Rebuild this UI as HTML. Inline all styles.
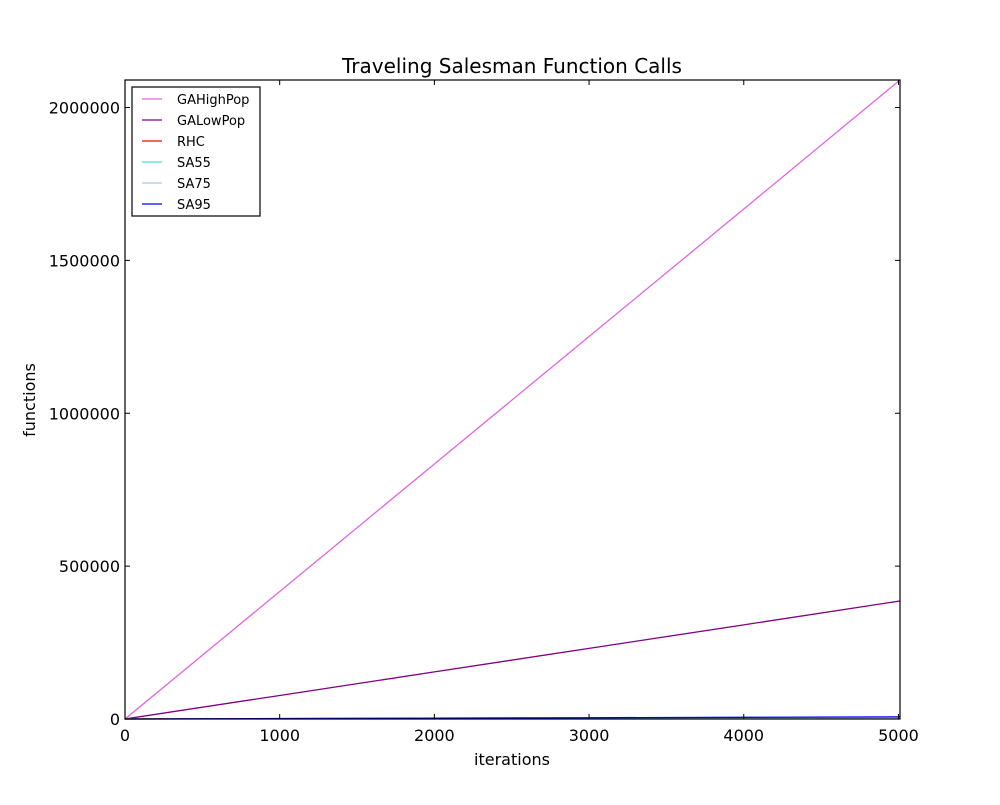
<!DOCTYPE html>
<html><head><meta charset="utf-8"><style>
body{margin:0;background:#fff;font-family:"Liberation Sans","DejaVu Sans",sans-serif;}
</style></head><body>
<svg width="1000" height="800" xmlns="http://www.w3.org/2000/svg" font-family="DejaVu Sans, Liberation Sans, sans-serif">
<rect width="1000" height="800" fill="#fff"/>
<text x="512" y="73" text-anchor="middle" font-size="20">Traveling Salesman Function Calls</text>
<g id="plot"></g>
<text x="512" y="765" text-anchor="middle" font-size="16">iterations</text>
<text transform="translate(35,400) rotate(-90)" text-anchor="middle" font-size="16">functions</text>
</svg>
<script>
const iterations = [0, 1000, 2000, 3000, 4000, 5010];
const gaHighPop = [0, 417000, 834000, 1251000, 1668000, 2090000];
const gaLowPop = [0, 77000, 154000, 231000, 308000, 386000];
const rhc = [0, 1000, 2000, 3000, 4000, 5010];
const sa55 = [0, 1000, 2000, 3000, 4000, 5010];
const sa75 = [0, 1000, 2000, 3000, 4000, 5010];
const sa95 = [0, 1400, 2800, 4200, 5600, 7000];
const xTicks = [0, 1000, 2000, 3000, 4000, 5000];
const yTicks = [0, 500000, 1000000, 1500000, 2000000];
const seriesNames = ["GAHighPop","GALowPop","RHC","SA55","SA75","SA95"];
const seriesColors = ["#e066e0","#800080","#ff0000","#40e0d0","#b0c4de","#0000ff"];
const seriesData = [gaHighPop, gaLowPop, rhc, sa55, sa75, sa95];
const L=125,R=900,T=80,B=719,XMAX=5010,YMAX=2090000;
const sx=v=>L+v/XMAX*(R-L), sy=v=>B-v/YMAX*(B-T);
const NS="http://www.w3.org/2000/svg";
const g=document.getElementById('plot');
function mk(t,a){const e=document.createElementNS(NS,t);for(const k in a)e.setAttribute(k,a[k]);g.appendChild(e);return e;}
seriesData.forEach((d,i)=>{
  const p=mk('polyline',{points:d.map((v,j)=>sx(iterations[j])+','+sy(v)).join(' '),fill:'none',stroke:seriesColors[i],'stroke-width':1.3});
  
  
});
const frame=mk('rect',{x:L,y:T,width:R-L,height:B-T,fill:'none',stroke:'#000','stroke-width':1.2});


xTicks.forEach(v=>{
  const x=sx(v);
  mk('line',{x1:x,y1:B,x2:x,y2:B-5,stroke:'#000'});
  mk('line',{x1:x,y1:T,x2:x,y2:T+5,stroke:'#000'});
  const t=mk('text',{x:x,y:B+22,'text-anchor':'middle','font-size':16});
  t.textContent=v;
  
  
});
yTicks.forEach(v=>{
  const y=sy(v);
  mk('line',{x1:L,y1:y,x2:L+5,y2:y,stroke:'#000'});
  mk('line',{x1:R,y1:y,x2:R-5,y2:y,stroke:'#000'});
  const t=mk('text',{x:L-5,y:y+6,'text-anchor':'end','font-size':16});
  t.textContent=v;
  
  
});
const lg=mk('rect',{x:132,y:87,width:128,height:129,fill:'#fff',stroke:'#000','stroke-width':1.2});


seriesNames.forEach((n,i)=>{
  const y=99+i*21;
  mk('line',{x1:142,y1:y,x2:162,y2:y,stroke:seriesColors[i],'stroke-width':1.3});
  const t=mk('text',{x:177,y:y+5,'font-size':13});
  t.textContent=n;
  
  
});
</script>
</body></html>
